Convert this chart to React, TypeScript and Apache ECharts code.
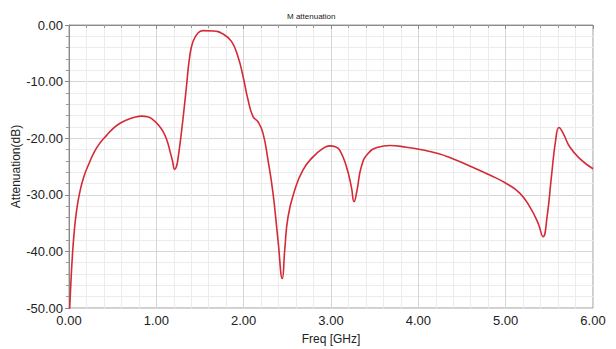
import React, { useEffect, useRef } from "react";
import * as echarts from "echarts";

const titleText = "M attenuation";
const xAxisName = "Freq [GHz]";
const yAxisName = "Attenuation(dB)";

const freqGHz = [
  0.005, 0.02, 0.04, 0.06, 0.085, 0.12, 0.17, 0.237, 0.29, 0.352, 0.43, 0.504,
  0.58, 0.657, 0.74, 0.83, 0.9, 0.96, 1.02, 1.076, 1.12, 1.153, 1.185, 1.21,
  1.23, 1.248, 1.287, 1.325, 1.344, 1.382, 1.42, 1.477, 1.534, 1.649, 1.763,
  1.86, 1.935, 1.993, 2.05, 2.107, 2.164, 2.221, 2.279, 2.336, 2.393, 2.443,
  2.47, 2.508, 2.584, 2.68, 2.794, 2.909, 2.985, 3.05, 3.1, 3.176, 3.233, 3.264,
  3.298, 3.348, 3.424, 3.539, 3.672, 3.863, 4.053, 4.225, 4.359, 4.588, 4.817,
  5.008, 5.161, 5.275, 5.371, 5.428, 5.474, 5.524, 5.573, 5.611, 5.657, 5.733,
  5.848, 6.0,
];
const attenuationDb = [
  -51, -46, -40.5, -36.5, -33, -29.8, -26.8, -24.2, -22.4, -20.9, -19.5, -18.3,
  -17.4, -16.8, -16.35, -16.1, -16.2, -16.7, -17.6, -18.8, -20.3, -22.1, -24.0,
  -25.5, -25.0, -23.6, -19, -13.8, -11, -5.6, -2.9, -1.4, -1.0, -1.05, -1.6,
  -2.9, -5.6, -9.1, -13.2, -16.2, -17.1, -19.1, -23.9, -29.7, -38.0, -44.8,
  -39.8, -33.9, -29.2, -25.6, -23.3, -21.8, -21.35, -21.5, -22.1, -25.0, -28.6,
  -31.2, -29.2, -25.0, -22.7, -21.6, -21.3, -21.6, -22.1, -22.7, -23.4, -24.9,
  -26.5, -28.0, -29.7, -32.1, -35.0, -37.4, -33.9, -26.8, -20.3, -18.1, -19.1,
  -21.5, -23.6, -25.4,
];

export default function App() {
  const ref = useRef<HTMLDivElement>(null);
  useEffect(() => {
    if (!ref.current) return;
    const chart = echarts.init(ref.current, undefined, { renderer: "svg" });
    const data = freqGHz.map((f, i) => [f, attenuationDb[i]]);
    const font = "Liberation Sans, Arial, sans-serif";
    chart.setOption({
      animation: false,
      backgroundColor: "#ffffff",
      title: {
        text: titleText,
        left: 282,
        top: 7,
        textStyle: { fontSize: 8, fontWeight: "normal", color: "#222", fontFamily: font },
      },
      grid: {
        left: 69,
        right: 23,
        top: 25,
        bottom: 41,
        containLabel: false,
        outerBoundsMode: "none",
        show: true,
        borderColor: "#9a9a9a",
        borderWidth: 1,
      },
      xAxis: {
        type: "value",
        min: 0,
        max: 6,
        interval: 1,
        name: xAxisName,
        nameLocation: "middle",
        nameGap: 25,
        nameMoveOverlap: false,
        nameTextStyle: { fontSize: 12, color: "#222", fontFamily: font },
        axisLine: { show: true, lineStyle: { color: "#8a8a8a" } },
        axisTick: { show: true, length: 4, lineStyle: { color: "#8a8a8a" } },
        minorTick: { show: true, splitNumber: 5, length: 3, lineStyle: { color: "#999" } },
        axisLabel: {
          fontSize: 13,
          color: "#222",
          fontFamily: font,
          margin: 6,
          formatter: (v: number) => v.toFixed(2),
        },
        splitLine: { show: true, lineStyle: { color: "#d6d6d6" } },
        minorSplitLine: { show: true, lineStyle: { color: "#ececec" } },
      },
      yAxis: {
        type: "value",
        min: -50,
        max: 0,
        interval: 10,
        name: yAxisName,
        nameLocation: "middle",
        nameGap: 47,
        nameMoveOverlap: false,
        nameTextStyle: { fontSize: 12, color: "#222", fontFamily: font },
        axisLine: { show: true, lineStyle: { color: "#8a8a8a" } },
        axisTick: { show: true, length: 4, lineStyle: { color: "#8a8a8a" } },
        minorTick: { show: true, splitNumber: 5, length: 3, lineStyle: { color: "#999" } },
        axisLabel: {
          fontSize: 13,
          color: "#222",
          fontFamily: font,
          margin: 6,
          formatter: (v: number) => v.toFixed(2),
        },
        splitLine: { show: true, lineStyle: { color: "#d6d6d6" } },
        minorSplitLine: { show: true, lineStyle: { color: "#ececec" } },
      },
      series: [
        {
          type: "line",
          data,
          smooth: 0.5,
          showSymbol: false,
          clip: true,
          lineStyle: { color: "#d42a37", width: 1.6 },
          itemStyle: { color: "#d42a37" },
        },
      ],
    });
    return () => chart.dispose();
  }, []);
  return (
    <div
      ref={ref}
      style={{ position: "absolute", left: 0, top: 0, width: 616, height: 349 }}
    />
  );
}
